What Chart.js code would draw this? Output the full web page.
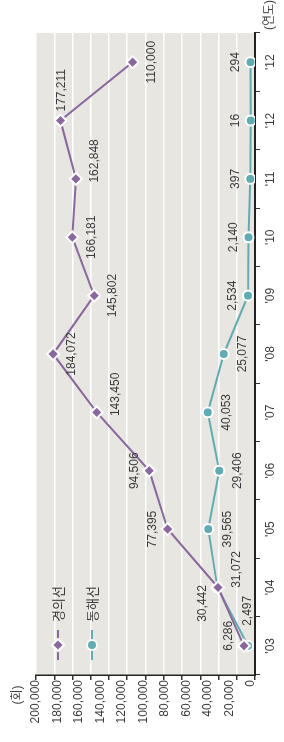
<!DOCTYPE html>
<html>
<head>
<meta charset="utf-8">
<script src="https://cdn.jsdelivr.net/npm/chart.js@4/dist/chart.umd.min.js"></script>
<style>
html, body { margin: 0; padding: 0; background: #fff; overflow: hidden; }
#wrap {
    position: absolute; left: 0; top: 0;
    width: 742px; height: 284px;
    transform-origin: 0 0;
    transform: translateY(742px) rotate(-90deg);
}
</style>
</head>
<body>
<div id="wrap"><canvas id="chart" width="742" height="284"></canvas></div>
<script>
// chart is drawn lying down, then turned -90deg as in the printed page
var years = ["'03", "'04", "'05", "'06", "'07", "'08", "'09", "'10", "'11", "'12", "'12"];
var gyeongui = [6286, 30442, 77395, 94506, 143450, 184072, 145802, 166181, 162848, 177211, 110000];
var donghae = [2497, 31072, 39565, 29406, 40053, 25077, 2534, 2140, 397, 16, 294];
var seriesNames = ['경의선', '동해선'];
var valueMax = 200000;
var valueStep = 20000;

// where each value label sits next to its point
var gyeonguiLabelPos = ['ar', 'al', 'a', 'a', 'br', 'b', 'b', 'b', 'br', 'r', 'b'];
var donghaeLabelPos = ['rr', 'br', 'b', 'b', 'b', 'b', 'a', 'a', 'a', 'a', 'a'];

var purple = '#8b67a2';
var teal = '#5eadb5';
var ink = '#3b3b3b';
var fontFamily = "'Liberation Sans', Arial, 'Noto Sans CJK KR', sans-serif";

Chart.defaults.font.family = fontFamily;
Chart.defaults.font.size = 12;
Chart.defaults.color = ink;

function withCommas(v) {
    return String(v).replace(/\B(?=(\d{3})+(?!\d))/g, ',');
}

var offsets = {
    a:  { dx: 0,   dy: -15, align: 'center' },
    b:  { dx: 0,   dy: 19,  align: 'center' },
    ar: { dx: 10,  dy: -15, align: 'center' },
    al: { dx: -16, dy: -15, align: 'center' },
    br: { dx: 18,  dy: 19,  align: 'center' },
    r:  { dx: 9,   dy: 1,   align: 'left' },
    rr: { dx: 20,  dy: 0,   align: 'left' }
};

var plotBg = {
    id: 'plotBg',
    beforeDraw: function (chart) {
        var a = chart.chartArea;
        var ctx = chart.ctx;
        ctx.save();
        ctx.fillStyle = '#e8e6e0';
        ctx.fillRect(a.left, a.top, a.right - a.left, a.bottom - a.top);
        ctx.restore();
    }
};

var valueLabels = {
    id: 'valueLabels',
    afterDatasetsDraw: function (chart) {
        var ctx = chart.ctx;
        var places = [gyeonguiLabelPos, donghaeLabelPos];
        ctx.save();
        ctx.font = '12px ' + fontFamily;
        ctx.fillStyle = ink;
        ctx.textBaseline = 'middle';
        chart.data.datasets.forEach(function (ds, i) {
            var meta = chart.getDatasetMeta(i);
            meta.data.forEach(function (pt, j) {
                var o = offsets[places[i][j]];
                ctx.textAlign = o.align;
                ctx.fillText(withCommas(ds.data[j]), pt.x + o.dx, pt.y + o.dy);
            });
        });
        ctx.restore();
    }
};

function drawMarker(ctx, style, x, y, color) {
    ctx.beginPath();
    if (style === 'rectRot') {
        ctx.moveTo(x, y - 6);
        ctx.lineTo(x + 6, y);
        ctx.lineTo(x, y + 6);
        ctx.lineTo(x - 6, y);
        ctx.closePath();
    } else {
        ctx.arc(x, y, 5, 0, Math.PI * 2);
    }
    ctx.fillStyle = color;
    ctx.fill();
    ctx.lineWidth = 2;
    ctx.strokeStyle = '#fff';
    ctx.stroke();
}

var extras = {
    id: 'extras',
    afterDraw: function (chart) {
        var ctx = chart.ctx;
        var a = chart.chartArea;
        ctx.save();
        // legend, stacked in the upper left of the plot
        chart.data.datasets.forEach(function (ds, i) {
            var y = a.top + 22 + i * 34;
            var x0 = a.left + 15;
            ctx.strokeStyle = ds.borderColor;
            ctx.lineWidth = 2;
            ctx.beginPath();
            ctx.moveTo(x0, y);
            ctx.lineTo(x0 + 30, y);
            ctx.stroke();
            drawMarker(ctx, ds.pointStyle, x0 + 15, y, ds.borderColor);
            ctx.fillStyle = ink;
            ctx.font = '13px ' + fontFamily;
            ctx.textAlign = 'left';
            ctx.textBaseline = 'middle';
            ctx.fillText(ds.label, x0 + 38, y + 1);
        });
        // units
        ctx.fillStyle = ink;
        ctx.font = '12px ' + fontFamily;
        ctx.textBaseline = 'middle';
        ctx.textAlign = 'center';
        ctx.fillText('(회)', 47, 18);
        ctx.textAlign = 'left';
        ctx.fillText('(연도)', a.right + 3, a.bottom + 15);
        ctx.restore();
    }
};

new Chart(document.getElementById('chart'), {
    type: 'line',
    data: {
        labels: years,
        datasets: [{
            label: seriesNames[0],
            data: gyeongui,
            borderColor: purple,
            backgroundColor: purple,
            borderWidth: 2,
            pointStyle: 'rectRot',
            pointRadius: 6,
            pointBorderColor: '#fff',
            pointBorderWidth: 2,
            tension: 0
        }, {
            label: seriesNames[1],
            data: donghae,
            borderColor: teal,
            backgroundColor: teal,
            borderWidth: 2,
            pointStyle: 'circle',
            pointRadius: 5,
            pointBorderColor: '#fff',
            pointBorderWidth: 2,
            tension: 0
        }]
    },
    options: {
        responsive: false,
        animation: false,
        events: [],
        layout: { padding: { top: 36, right: 33, left: 0, bottom: 0 } },
        plugins: { legend: { display: false }, tooltip: { enabled: false } },
        scales: {
            x: {
                offset: true,
                grid: { offset: true, drawOnChartArea: false, drawTicks: true, tickLength: 5, tickColor: '#333', lineWidth: 1 },
                border: { display: true, color: '#222', width: 2 },
                ticks: { autoSkip: false, maxRotation: 0, padding: 3, color: ink, font: { size: 12 } },
                afterFit: function (s) { s.height = 29; }
            },
            y: {
                position: 'left',
                weight: 1,
                // small gap below zero, so the low points sit off the axis line
                min: -4000,
                max: valueMax,
                grid: { display: false, drawTicks: false },
                border: { display: true, color: '#222', width: 1.5 },
                ticks: {
                    padding: 5,
                    color: ink,
                    callback: function (v) { return withCommas(v); }
                },
                afterBuildTicks: function (s) {
                    var t = [];
                    for (var v = 0; v <= valueMax; v += valueStep) t.push({ value: v });
                    s.ticks = t;
                },
                afterFit: function (s) { s.width = 67; }
            },
            grid12: {
                position: 'left',
                weight: 0,
                min: 0,
                max: 12,
                ticks: { display: false, stepSize: 1 },
                grid: {
                    color: function (c) { return c.tick && c.tick.value === 0 ? 'rgba(0,0,0,0)' : '#ffffff'; },
                    lineWidth: 1.5,
                    drawTicks: true,
                    tickLength: 5,
                    tickColor: '#333'
                },
                border: { display: false },
                afterFit: function (s) { s.width = 0; }
            }
        }
    },
    plugins: [plotBg, valueLabels, extras]
});
</script>
</body>
</html>
